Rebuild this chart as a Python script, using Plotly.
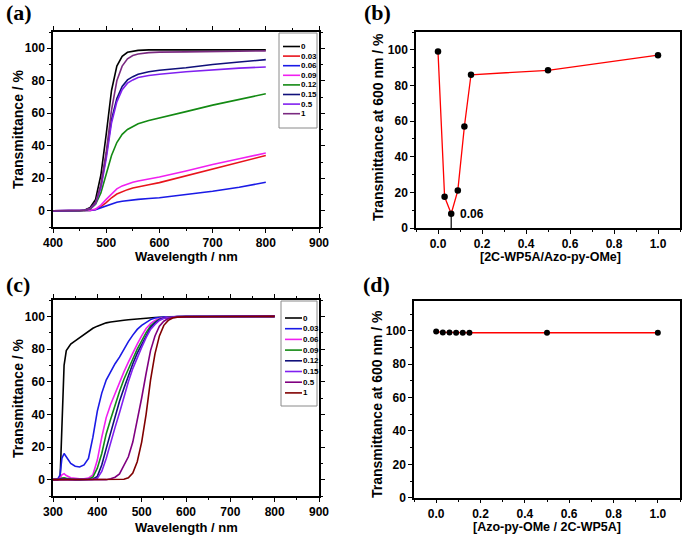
import plotly.graph_objects as go

W, H = 685, 540

# ---------------- data ----------------
labels_a = ["0", "0.03", "0.06", "0.09", "0.12", "0.15", "0.5", "1"]
colors_a = ["#000000", "#e8141c", "#1a1ae6", "#f020f0", "#138a13", "#10107a", "#8020f0", "#7a2a80"]
wl_a = [400, 450, 460, 470, 480, 490, 500, 510, 520, 530, 540, 550, 560, 580, 600, 650, 700, 750, 800]
T_a_0 = [0, 0, 0.5, 2, 7, 22, 47, 74, 89, 95, 97.5, 98.3, 98.7, 99, 99, 99, 99, 99, 99]
T_a_003 = [0, 0, 0, 0.2, 0.8, 2.5, 5, 8, 10.3, 11.8, 13, 14, 14.8, 16, 17.3, 21.5, 26, 30, 34]
T_a_006 = [0, 0, 0, 0.2, 0.7, 1.8, 3.2, 4.3, 5.2, 5.8, 6.3, 6.7, 7, 7.5, 8, 10, 12, 14.5, 17.5]
T_a_009 = [0, 0, 0, 0.3, 1, 3.5, 7, 10.5, 13.5, 15.3, 16.5, 17.5, 18.3, 19.5, 20.8, 24.5, 28.5, 32, 35.5]
T_a_012 = [0, 0, 0.2, 1, 4, 11, 23, 34, 42, 47, 50, 52, 53.5, 55.5, 57, 61, 65, 68.5, 72]
T_a_015 = [0, 0, 0.3, 1.5, 5, 15, 34, 56, 69, 76.5, 80.5, 82.5, 84, 85.5, 86.5, 88, 90, 91.5, 93]
T_a_05 = [0, 0, 0.3, 1.3, 4.5, 14, 32, 54, 67, 74.5, 78.5, 80.5, 82, 83.2, 84, 85.5, 86.8, 87.8, 88.5]
T_a_1 = [0, 0, 0.3, 1.5, 5, 16, 36, 62, 80, 89, 93.5, 95.5, 96.5, 97.3, 97.6, 97.8, 98, 98.2, 98.4]
series_a = [T_a_0, T_a_003, T_a_006, T_a_009, T_a_012, T_a_015, T_a_05, T_a_1]

ratio_b = [0, 0.03, 0.06, 0.09, 0.12, 0.15, 0.5, 1.0]
T600_b = [99, 17.5, 8, 21, 57, 86, 88.5, 97]

labels_c = ["0", "0.03", "0.06", "0.09", "0.12", "0.15", "0.5", "1"]
colors_c = ["#000000", "#1a1ae6", "#f020f0", "#138a13", "#10107a", "#8020f0", "#800080", "#800000"]
wl_c = [300, 310, 316, 320, 325, 330, 340, 350, 360, 370, 380, 390, 400, 410, 420, 430, 440, 450,
        460, 470, 480, 490, 500, 510, 520, 530, 540, 550, 560, 570, 580, 600, 650, 700, 750, 800]
T_c_0 = [0, 0, 0.5, 30, 70, 79, 83, 85, 87, 89, 91, 92.7, 94, 95.2, 96, 96.5, 97, 97.3,
         97.6, 97.9, 98.2, 98.5, 98.7, 98.9, 99.1, 99.3, 99.4, 99.5, 99.6, 99.7, 99.7, 99.8, 99.9, 100, 100, 100]
T_c_003 = [0, 0, 3, 13, 16, 14, 10, 8.2, 7.8, 9, 13, 26, 42, 53, 61, 66, 71, 75,
           80, 84.5, 88.5, 92, 94.5, 96.5, 98, 99, 99.4, 99.6, 99.7, 99.8, 99.8, 99.8, 99.9, 100, 100, 100]
T_c_006 = [0, 0, 1, 3, 3.7, 2.5, 1.2, 0.7, 0.5, 0.5, 1, 3, 12, 26, 38, 46, 53, 60,
           66, 72, 78, 83, 88, 92.5, 95.5, 97.5, 98.6, 99.2, 99.5, 99.7, 99.8, 99.8, 99.9, 100, 100, 100]
T_c_009 = [0, 0, 0.3, 1, 1.2, 0.8, 0.3, 0.1, 0, 0, 0.3, 1.6, 7, 16, 28, 37, 46, 54,
           61.5, 68, 74, 80, 85, 90, 94, 96.5, 98.2, 99, 99.4, 99.7, 99.8, 99.8, 99.9, 100, 100, 100]
T_c_012 = [0, 0, 0.2, 0.4, 0.5, 0.3, 0.1, 0, 0, 0, 0, 0.3, 2, 9, 19, 29, 38, 48,
           56, 64, 71, 77.5, 83, 88.5, 93, 96, 98, 99, 99.4, 99.7, 99.8, 99.8, 99.9, 100, 100, 100]
T_c_015 = [0, 0, 0.1, 0.3, 0.3, 0.2, 0, 0, 0, 0, 0, 0.1, 0.8, 5, 13, 23, 32, 41,
           51, 60, 68, 75, 81, 87, 92, 95, 97.5, 98.8, 99.3, 99.6, 99.8, 99.8, 99.9, 100, 100, 100]
T_c_05 = [0, 0, 0, 0.1, 0.2, 0.1, 0, 0, 0, 0, 0, 0, 0, 0, 0, 0.6, 1.5, 3.5,
          8.5, 14, 23, 36, 50, 65, 79, 88, 94, 97, 98.6, 99.3, 99.6, 99.8, 99.9, 100, 100, 100]
T_c_1 = [0, 0, 0, 0, 0, 0, 0, 0, 0, 0, 0, 0, 0, 0, 0, 0, 0, 0,
         0.3, 1.2, 4, 11, 23, 40, 61, 77, 88, 94.5, 97.5, 99, 99.5, 99.7, 99.8, 100, 100, 100]
series_c = [T_c_0, T_c_003, T_c_006, T_c_009, T_c_012, T_c_015, T_c_05, T_c_1]

ratio_d = [0, 0.03, 0.06, 0.09, 0.12, 0.15, 0.5, 1.0]
T600_d = [99.5, 99, 99, 98.8, 98.8, 98.8, 98.8, 98.8]

# ---------------- helpers ----------------
def px(x):
    return x / W

def py(y):
    return 1 - y / H

SANS = "Liberation Sans, Arial, sans-serif"
SERIF = "Liberation Serif, Times New Roman, serif"

fig = go.Figure()

for lab, col, ys in zip(labels_a, colors_a, series_a):
    fig.add_trace(go.Scatter(x=wl_a, y=ys, mode="lines", name=lab,
                             line=dict(color=col, width=1.6), showlegend=False,
                             xaxis="x", yaxis="y"))

fig.add_trace(go.Scatter(x=ratio_b, y=T600_b, mode="lines+markers",
                         line=dict(color="#ff0000", width=1.3),
                         marker=dict(color="black", size=6.5), showlegend=False,
                         xaxis="x2", yaxis="y2"))
fig.add_trace(go.Scatter(x=[ratio_b[2], ratio_b[2]], y=[0, T600_b[2]], mode="lines",
                         line=dict(color="black", width=1.2), showlegend=False,
                         xaxis="x2", yaxis="y2"))

for lab, col, ys in zip(labels_c, colors_c, series_c):
    fig.add_trace(go.Scatter(x=wl_c, y=ys, mode="lines", name=lab,
                             line=dict(color=col, width=1.6), showlegend=False,
                             xaxis="x3", yaxis="y3"))

fig.add_trace(go.Scatter(x=ratio_d, y=T600_d, mode="lines+markers",
                         line=dict(color="#ff0000", width=1.3),
                         marker=dict(color="black", size=6), showlegend=False,
                         xaxis="x4", yaxis="y4"))

tickfont = dict(family=SANS, size=12, color="black", weight="bold")

def axis(domain, rng, dtick, mdtick, mirror, anchor):
    return dict(domain=domain, range=rng, dtick=dtick, anchor=anchor, automargin=False,
                showgrid=False, zeroline=False, showline=True, linecolor="black",
                linewidth=1.5, mirror=mirror, ticks="outside", ticklen=4,
                tickwidth=1.2, tickcolor="black", tickfont=tickfont,
                minor=dict(dtick=mdtick, ticks="outside", ticklen=2.5,
                           tickwidth=1, tickcolor="black", showgrid=False))

layout = dict(
    width=W, height=H, margin=dict(l=0, r=0, t=0, b=0, pad=0, autoexpand=False),
    template="none",
    paper_bgcolor="white", plot_bgcolor="white", showlegend=False,
    xaxis=axis([px(53), px(319)], [400, 900], 100, 50, "ticks", "y"),
    yaxis=axis([py(227), py(32)], [-10, 110], 20, 10, "ticks", "x"),
    xaxis2=axis([px(416), px(680)], [-0.1, 1.1], 0.2, 0.1, True, "y2"),
    yaxis2=axis([py(228), py(32)], [0, 110], 20, 10, True, "x2"),
    xaxis3=axis([px(53), px(319)], [300, 900], 100, 50, "ticks", "y3"),
    yaxis3=axis([py(496), py(300)], [-10, 110], 20, 10, "ticks", "x3"),
    xaxis4=axis([px(414), px(680)], [-0.1, 1.1], 0.2, 0.1, True, "y4"),
    yaxis4=axis([py(497.7), py(300.7)], [0, 118], 20, 10, True, "x4"),
)
layout["xaxis2"]["tickformat"] = ".1f"
layout["xaxis4"]["tickformat"] = ".1f"
fig.update_layout(**layout)

ann = []
shapes = []

def text(x, y, s, size, angle=0, family=SANS, xanchor="center"):
    ann.append(dict(x=px(x), y=py(y), xref="paper", yref="paper", text="<b>" + s + "</b>",
                    showarrow=False, textangle=angle, xanchor=xanchor, yanchor="middle",
                    font=dict(family=family, size=size, color="black")))

# panel labels
text(4, 13, "(a)", 22, family=SERIF, xanchor="left")
text(362, 13, "(b)", 22, family=SERIF, xanchor="left")
text(4, 284, "(c)", 22, family=SERIF, xanchor="left")
text(361, 284, "(d)", 22, family=SERIF, xanchor="left")

# axis titles
text(186, 256, "Wavelength / nm", 13)
text(18, 129, "Transmittance / %", 14, angle=-90)
text(550, 257, "[2C-WP5A/Azo-py-OMe]", 12.5)
text(378, 127, "Transmittance at 600 nm / %", 14, angle=-90)
text(186, 527, "Wavelength / nm", 13)
text(18, 398, "Transmittance / %", 14, angle=-90)
text(547, 527, "[Azo-py-OMe / 2C-WP5A]", 12.5)
text(377, 404, "Transmittance at 600 nm / %", 14, angle=-90)

# "0.06" label in (b)
ann.append(dict(x=ratio_b[2], y=T600_b[2], xref="x2", yref="y2", text="<b>0.06</b>",
                showarrow=False, xanchor="left", yanchor="middle", xshift=7,
                font=dict(family=SANS, size=12, color="black")))

# manual legends
def legend(box, y0, dy, labs, cols):
    x0, y_top, x1, y_bot = box
    shapes.append(dict(type="rect", xref="paper", yref="paper",
                       x0=px(x0), x1=px(x1), y0=py(y_bot), y1=py(y_top),
                       line=dict(color="#8a8a8a", width=1), fillcolor="white", layer="above"))
    for i, (lab, col) in enumerate(zip(labs, cols)):
        yy = y0 + i * dy
        shapes.append(dict(type="line", xref="paper", yref="paper",
                           x0=px(x0 + 4), x1=px(x0 + 21), y0=py(yy), y1=py(yy),
                           line=dict(color=col, width=1.6), layer="above"))
        ann.append(dict(x=px(x0 + 21), y=py(yy), xref="paper", yref="paper",
                        text="<b>" + lab + "</b>", showarrow=False, xanchor="left",
                        yanchor="middle", borderpad=0, font=dict(family=SANS, size=8, color="black")))

legend((279, 33, 317, 128), 46.5, 9.6, labels_a, colors_a)
legend((281, 301, 317, 406), 318, 10.7, labels_c, colors_c)

fig.update_layout(annotations=ann, shapes=shapes)
fig.write_html("out.html", config={"displayModeBar": False},
               post_script="document.body.style.margin='0';document.body.style.overflow='hidden';")
